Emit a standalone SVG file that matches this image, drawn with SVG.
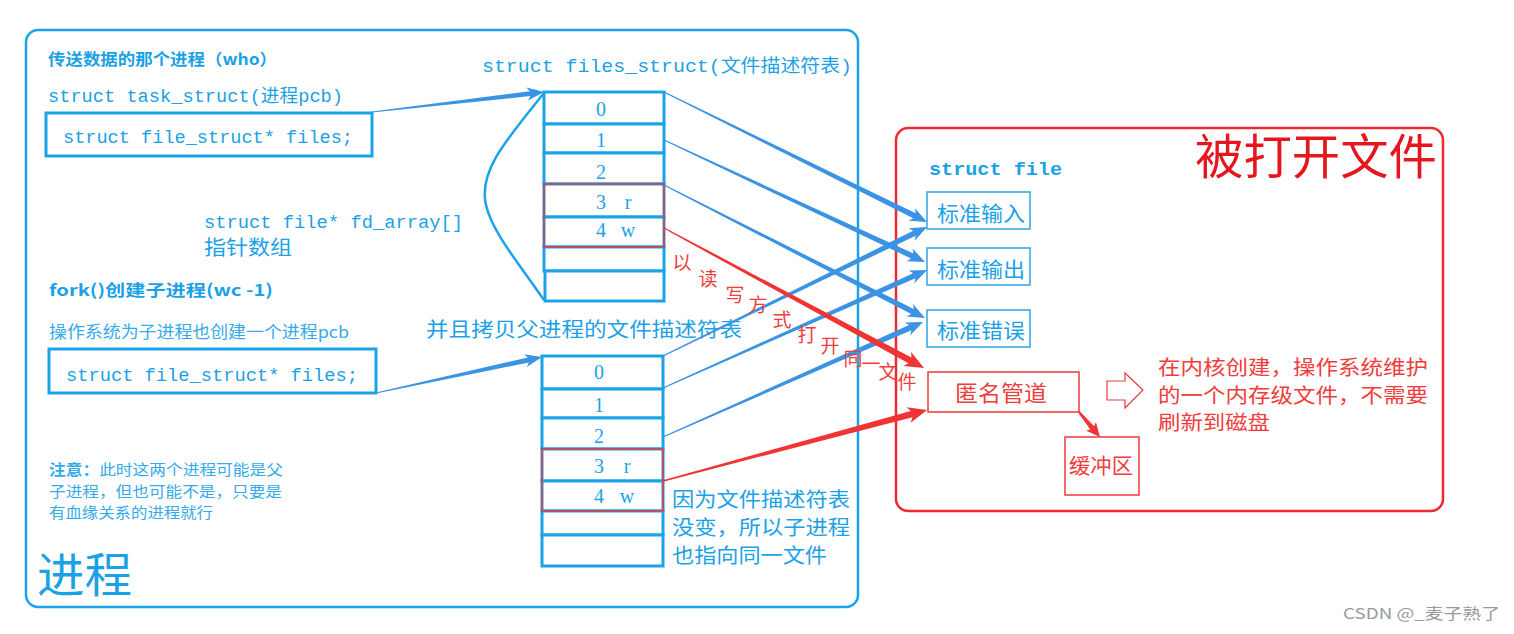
<svg xmlns="http://www.w3.org/2000/svg" width="1514" height="634" viewBox="0 0 1514 634">
<style>
.bg{fill:#ffffff}
.frame-b{fill:none;stroke:#1aa3e8;stroke-width:2.5}
.frame-r{fill:none;stroke:#ee2a30;stroke-width:2.5}
.box-b{fill:#ffffff;stroke:#1aa3e8;stroke-width:3}
.cell{fill:#ffffff;stroke:#1aa3e8;stroke-width:3}
.thin-b{fill:#ffffff;stroke:#2fa4e6;stroke-width:1.5}
.thin-r{fill:#ffffff;stroke:#ee3a3a;stroke-width:1.5}
.redsel{fill:none;stroke:#e83a3a;stroke-width:1.5}
.mono{font-family:"Liberation Mono","Noto Sans CJK SC",monospace;fill:#1ba1e6}
.cjk-b{font-family:"Noto Sans CJK SC",sans-serif;fill:#1ba1e6}
.cjk-r{font-family:"Noto Sans CJK SC",sans-serif;fill:#f03c3c}
.num{font-family:"Liberation Serif","Noto Sans CJK SC",serif;fill:#1ba1e6;font-size:20px;text-anchor:middle}
.arr-b{fill:#3b93e3}
.arr-r{fill:#f03434}
.diag{font-family:"Noto Sans CJK SC",sans-serif;fill:#f03c3c;font-size:19px;text-anchor:middle;dominant-baseline:central}
</style>
<rect class="bg" x="0" y="0" width="1514" height="634"/>

<g id="process">
<rect class="frame-b" x="26" y="30" width="832" height="577" rx="12"/>
<text class="cjk-b" x="37" y="592" font-size="47" textLength="95" lengthAdjust="spacingAndGlyphs">进程</text>
</g>

<g id="open-files">
<rect class="frame-r" x="896" y="128" width="547" height="383" rx="12"/>
<text x="1195" y="174" font-size="48" textLength="242" lengthAdjust="spacingAndGlyphs" style="font-family:'Noto Sans CJK SC',sans-serif;fill:#e5161d">被打开文件</text>
<text class="mono" x="929" y="175" font-size="19" font-weight="bold" textLength="133" lengthAdjust="spacingAndGlyphs">struct file</text>
</g>

<g id="parent-labels">
<text class="cjk-b" x="48" y="65" font-size="16" font-weight="bold" textLength="229" lengthAdjust="spacingAndGlyphs">传送数据的那个进程（who）</text>
<text class="mono" x="48" y="102" font-size="18.5" textLength="295" lengthAdjust="spacingAndGlyphs">struct task_struct(进程pcb)</text>
<text class="mono" x="482" y="72" font-size="18.5" textLength="370" lengthAdjust="spacingAndGlyphs">struct files_struct(文件描述符表)</text>
<text class="mono" x="204" y="228" font-size="18.5" textLength="259" lengthAdjust="spacingAndGlyphs">struct file* fd_array[]</text>
<text class="cjk-b" x="204" y="255" font-size="20" textLength="88" lengthAdjust="spacingAndGlyphs">指针数组</text>
</g>

<g id="parent-files">
<rect class="box-b" x="46" y="113" width="326" height="43"/>
<text class="mono" x="63" y="143" font-size="18.5" textLength="290" lengthAdjust="spacingAndGlyphs">struct file_struct* files;</text>
</g>

<g id="child-labels">
<text class="cjk-b" x="49" y="296" font-size="16" font-weight="bold" textLength="224" lengthAdjust="spacingAndGlyphs">fork()创建子进程(wc -1)</text>
<text class="cjk-b" x="49" y="338" font-size="16.5" textLength="300" lengthAdjust="spacingAndGlyphs" style="fill:#35aaea">操作系统为子进程也创建一个进程pcb</text>
<text class="cjk-b" x="426" y="337" font-size="20" textLength="316" lengthAdjust="spacingAndGlyphs">并且拷贝父进程的文件描述符表</text>
</g>

<g id="child-files">
<rect class="box-b" x="49" y="349" width="327" height="44"/>
<text class="mono" x="66" y="381" font-size="18.5" textLength="292" lengthAdjust="spacingAndGlyphs">struct file_struct* files;</text>
</g>

<g id="note">
<text class="cjk-b" x="49" y="475" font-size="15" textLength="234" lengthAdjust="spacingAndGlyphs" style="fill:#35aaea"><tspan font-weight="bold">注意：</tspan>此时这两个进程可能是父</text>
<text class="cjk-b" x="49" y="497" font-size="15" textLength="233" lengthAdjust="spacingAndGlyphs" style="fill:#35aaea">子进程，但也可能不是，只要是</text>
<text class="cjk-b" x="49" y="518" font-size="15" textLength="164" lengthAdjust="spacingAndGlyphs" style="fill:#35aaea">有血缘关系的进程就行</text>
</g>

<g id="parent-fd-table">
<path d="M544,93 C506,140 478,172 486,205 C492,232 520,265 544,300" fill="none" stroke="#1aa3e8" stroke-width="2.5"/>
<rect class="cell" x="544" y="92" width="120" height="32"/>
<rect class="cell" x="544" y="124" width="120" height="29"/>
<rect class="cell" x="544" y="153" width="120" height="31"/>
<rect class="cell" x="544" y="184" width="120" height="33"/>
<rect class="cell" x="544" y="217" width="120" height="30"/>
<rect class="cell" x="544" y="247" width="120" height="24"/>
<rect class="cell" x="545" y="271" width="119" height="30"/>
<rect class="redsel" x="544" y="184" width="120" height="63"/>
<text class="num" x="601" y="116">0</text>
<text class="num" x="601" y="147">1</text>
<text class="num" x="601" y="179">2</text>
<text class="num" x="601" y="209">3</text><text class="num" x="628" y="209">r</text>
<text class="num" x="601" y="237">4</text><text class="num" x="628" y="237">w</text>
</g>

<g id="child-fd-table">
<rect class="cell" x="542" y="356" width="121" height="33"/>
<rect class="cell" x="542" y="389" width="121" height="29"/>
<rect class="cell" x="542" y="418" width="121" height="31"/>
<rect class="cell" x="542" y="449" width="121" height="32"/>
<rect class="cell" x="542" y="481" width="121" height="30"/>
<rect class="cell" x="542" y="511" width="121" height="24"/>
<rect class="cell" x="542" y="535" width="121" height="31"/>
<rect class="redsel" x="542" y="449" width="121" height="62"/>
<text class="num" x="599" y="379">0</text>
<text class="num" x="599" y="412">1</text>
<text class="num" x="599" y="443">2</text>
<text class="num" x="599" y="473">3</text><text class="num" x="627" y="473">r</text>
<text class="num" x="599" y="503">4</text><text class="num" x="627" y="503">w</text>
<text class="cjk-b" x="672" y="507" font-size="20" textLength="178" lengthAdjust="spacingAndGlyphs">因为文件描述符表</text>
<text class="cjk-b" x="672" y="535" font-size="20" textLength="178" lengthAdjust="spacingAndGlyphs">没变，所以子进程</text>
<text class="cjk-b" x="672" y="563" font-size="20" textLength="155" lengthAdjust="spacingAndGlyphs">也指向同一文件</text>
</g>

<g id="connectors">
<polygon class="arr-b" transform="translate(372,112) rotate(-6.63)" points="0,-0.6 159.2,-2.5 156.2,-6.5 173.2,0 156.2,6.5 159.2,2.5 0,0.6"/>
<polygon class="arr-b" transform="translate(376,393) rotate(-12.24)" points="0,-0.6 155.9,-2.5 152.9,-6.5 169.9,0 152.9,6.5 155.9,2.5 0,0.6"/>
<polygon class="arr-b" transform="translate(664,92) rotate(26.30)" points="0,-0.6 279.4,-2.8 276.4,-7 293.4,0 276.4,7 279.4,2.8 0,0.6"/>
<polygon class="arr-b" transform="translate(664,140) rotate(25.05)" points="0,-0.6 274.1,-2.8 271.1,-7 288.1,0 271.1,7 274.1,2.8 0,0.6"/>
<polygon class="arr-b" transform="translate(664,185) rotate(27.00)" points="0,-0.6 278.9,-2.8 275.9,-7 292.9,0 275.9,7 278.9,2.8 0,0.6"/>
<polygon class="arr-b" transform="translate(663,356) rotate(-26.04)" points="0,-0.6 279.8,-2.8 276.8,-7 293.8,0 276.8,7 279.8,2.8 0,0.6"/>
<polygon class="arr-b" transform="translate(663,388) rotate(-24.08)" points="0,-0.6 275.2,-2.8 272.2,-7 289.2,0 272.2,7 275.2,2.8 0,0.6"/>
<polygon class="arr-b" transform="translate(663,437) rotate(-23.86)" points="0,-0.6 270.3,-2.8 267.3,-7 284.3,0 267.3,7 270.3,2.8 0,0.6"/>
<polygon class="arr-r" transform="translate(664,228) rotate(28.30)" points="0,-0.7 279.3,-3.2 276.3,-8 295.3,0 276.3,8 279.3,3.2 0,0.7"/>
<polygon class="arr-r" transform="translate(663,481) rotate(-15.05)" points="0,-0.7 257.4,-3.2 254.4,-8 273.4,0 254.4,8 257.4,3.2 0,0.7"/>
<polygon class="arr-r" transform="translate(1079,412) rotate(49.97)" points="0,-1 20.6,-2.5 18.6,-6.5 32.6,0 18.6,6.5 20.6,2.5 0,1"/>
</g>

<g id="rw-label">
<text class="diag" x="682" y="261">以</text>
<text class="diag" x="708" y="277">读</text>
<text class="diag" x="735" y="293">写</text>
<text class="diag" x="758" y="303">方</text>
<text class="diag" x="782" y="318">式</text>
<text class="diag" x="807" y="333">打</text>
<text class="diag" x="830" y="344">开</text>
<text class="diag" x="853" y="357">同</text>
<text class="diag" x="871" y="362">一</text>
<text class="diag" x="888" y="370">文</text>
<text class="diag" x="907" y="380">件</text>
</g>

<g id="stdin">
<rect class="thin-b" x="927" y="192" width="103" height="37"/>
<text class="cjk-b" x="937" y="221" font-size="21" textLength="88" lengthAdjust="spacingAndGlyphs">标准输入</text>
</g>
<g id="stdout">
<rect class="thin-b" x="927" y="248" width="103" height="37"/>
<text class="cjk-b" x="937" y="277" font-size="21" textLength="88" lengthAdjust="spacingAndGlyphs">标准输出</text>
</g>
<g id="stderr">
<rect class="thin-b" x="927" y="310" width="103" height="37"/>
<text class="cjk-b" x="937" y="338" font-size="21" textLength="88" lengthAdjust="spacingAndGlyphs">标准错误</text>
</g>
<g id="pipe">
<rect class="thin-r" x="928" y="372" width="151" height="40"/>
<text class="cjk-r" x="955" y="401" font-size="22" textLength="92" lengthAdjust="spacingAndGlyphs">匿名管道</text>
</g>
<g id="buffer">
<rect class="thin-r" x="1065" y="437" width="74" height="58"/>
<text class="cjk-r" x="1069" y="473" font-size="21" textLength="64" lengthAdjust="spacingAndGlyphs">缓冲区</text>
</g>
<g id="pipe-note">
<polygon points="1107,381 1125,381 1125,373 1143,390 1125,408 1125,400 1107,400" fill="#ffffff" stroke="#ee3a3a" stroke-width="1.2"/>
<text class="cjk-r" x="1158" y="375" font-size="20" textLength="270" lengthAdjust="spacingAndGlyphs">在内核创建，操作系统维护</text>
<text class="cjk-r" x="1158" y="403" font-size="20" textLength="270" lengthAdjust="spacingAndGlyphs">的一个内存级文件，不需要</text>
<text class="cjk-r" x="1158" y="430" font-size="20" textLength="112" lengthAdjust="spacingAndGlyphs">刷新到磁盘</text>
</g>

<text x="1343" y="619" font-size="15" textLength="157" lengthAdjust="spacingAndGlyphs" style="font-family:'Noto Sans CJK SC',sans-serif;fill:#9a9a9a">CSDN @_麦子熟了</text>
</svg>
